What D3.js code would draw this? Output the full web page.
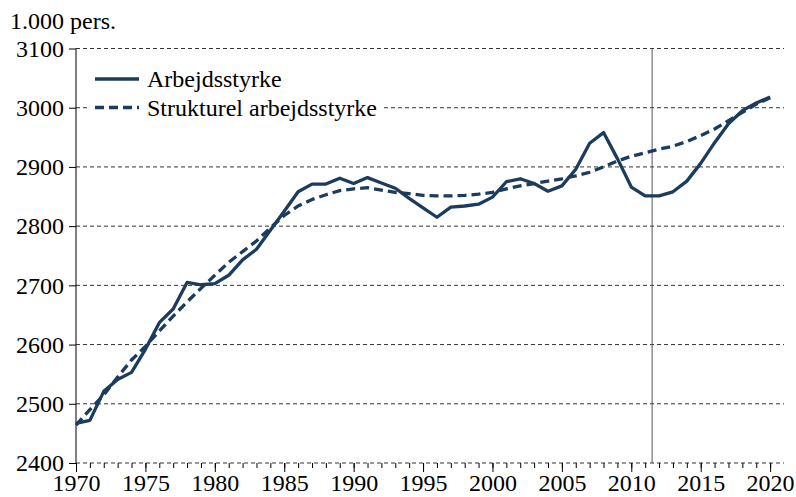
<!DOCTYPE html>
<html>
    <head>
        <script src="https://d3js.org/d3.v7.min.js"></script>
        <style>
            body { margin: 0; background: #fff; }
            svg text { font-family: 'Liberation Serif', 'Times New Roman', Tinos, 'DejaVu Serif', serif !important; }
        </style>
    </head>
    <body>
        <script>
            // data
            const startYear = 1970
            const endYear = 2020
            const labourForce = [
                2467, 2472, 2521, 2541, 2553, 2592, 2637, 2660, 2705, 2701,
                2703, 2717, 2743, 2761, 2793, 2825, 2858, 2871, 2871, 2881,
                2872, 2882, 2873, 2864, 2847, 2831, 2815, 2832, 2834, 2837,
                2849, 2875, 2880, 2872, 2859, 2868, 2896, 2940, 2958, 2914,
                2866, 2851, 2851, 2858, 2876, 2906, 2941, 2973, 2995, 3008,
                3018
            ]
            const structural = [
                2464, 2490, 2515, 2545, 2574, 2597, 2623, 2648, 2672, 2695,
                2717, 2739, 2757, 2775, 2797, 2818, 2834, 2845, 2853, 2860,
                2863, 2865, 2861, 2857, 2855, 2852, 2851, 2851, 2852, 2854,
                2857, 2863, 2868, 2872, 2876, 2880, 2885, 2891, 2900, 2910,
                2918, 2924, 2930, 2935, 2943, 2953, 2964, 2978, 2992, 3006,
                3017
            ]
            const yTicks = [2400, 2500, 2600, 2700, 2800, 2900, 3000, 3100]
            const xLabels = [1970, 1975, 1980, 1985, 1990, 1995, 2000, 2005, 2010, 2015, 2020]
            const splitYear = 2011.5
            const seriesNames = ['Arbejdsstyrke', 'Strukturel arbejdsstyrke']
            const unitLabel = '1.000 pers.'

            const years = d3.range(startYear, endYear + 1)
            const lineColor = '#1b3c5d'

            const svg = d3.select('body').append('svg')
            svg.attr('width', 796)
            svg.attr('height', 497)

            const xScale = d3.scaleLinear().domain([1970, 2021]).range([76, 784])
            const yScale = d3.scaleLinear().domain([2400, 3100]).range([463, 48.5])

            // gridlines
            svg.append('g')
                .selectAll('line')
                .data(yTicks).enter()
                .append('line')
                    .attr('x1', xScale(1970)).attr('x2', xScale(2021))
                    .attr('y1', d => yScale(d)).attr('y2', d => yScale(d))
                    .attr('stroke', '#333')
                    .attr('stroke-width', 1)
                    .attr('stroke-dasharray', '4,3')

            // x axis: minor yearly ticks and labelled five-year ticks
            const xMinor = d3.axisBottom(xScale)
                .tickValues(years).tickSize(5).tickFormat('')
            const xMajor = d3.axisBottom(xScale)
                .tickValues(xLabels).tickSize(9).tickPadding(2)
                .tickFormat(d3.format('d'))

            svg.append('g')
                .attr('transform', `translate(0, ${yScale(2400)})`)
                .call(xMinor)
                .call(g => g.select('.domain').remove())
            svg.append('g')
                .attr('transform', `translate(0, ${yScale(2400)})`)
                .call(xMajor)
                .call(g => g.select('.domain').remove())
                .call(g => g.selectAll('text')
                    .attr('font-size', 24)
                    .attr('fill', '#000'))

            // y axis
            const yAxis = d3.axisLeft(yScale)
                .tickValues(yTicks).tickSize(7).tickPadding(5)
                .tickFormat(d3.format('d'))
            svg.append('g')
                .attr('transform', `translate(${xScale(1970)}, 0)`)
                .call(yAxis)
                .call(g => g.select('.domain').remove())
                .call(g => g.selectAll('text')
                    .attr('font-size', 24)
                    .attr('fill', '#000'))
            svg.append('line')
                .attr('x1', xScale(1970)).attr('x2', xScale(1970))
                .attr('y1', yScale(3100)).attr('y2', yScale(2400))
                .attr('stroke', '#000')
                .attr('stroke-width', 1)

            svg.append('text')
                .attr('x', 10).attr('y', 29)
                .attr('font-size', 24)
                .text(unitLabel)

            // vertical marker
            svg.append('line')
                .attr('x1', xScale(splitYear)).attr('x2', xScale(splitYear))
                .attr('y1', yScale(3100)).attr('y2', yScale(2400))
                .attr('stroke', '#555')
                .attr('stroke-width', 1)

            // series
            const line = d3.line()
                .x((d, i) => xScale(years[i]))
                .y(d => yScale(d))

            svg.append('path')
                .datum(structural)
                .attr('d', line)
                .attr('fill', 'none')
                .attr('stroke', lineColor)
                .attr('stroke-width', 3.3)
                .attr('stroke-dasharray', '9,5')

            svg.append('path')
                .datum(labourForce)
                .attr('d', line)
                .attr('fill', 'none')
                .attr('stroke', lineColor)
                .attr('stroke-width', 3.3)
                .attr('stroke-linejoin', 'round')

            // legend
            const legend = svg.append('g')
            legend.append('rect')
                .attr('x', 88).attr('y', 62)
                .attr('width', 296).attr('height', 58)
                .attr('fill', '#fff')

            const legendItems = legend.selectAll('.item')
                .data(seriesNames).enter()
                .append('g')
                    .attr('class', 'item')
                    .attr('transform', (d, i) => `translate(95, ${79 + i * 28.5})`)

            legendItems.append('line')
                .attr('x1', 0).attr('x2', 44)
                .attr('y1', 0).attr('y2', 0)
                .attr('stroke', lineColor)
                .attr('stroke-width', 3.3)
                .attr('stroke-dasharray', (d, i) => i === 1 ? '9,5' : null)

            legendItems.append('text')
                .attr('x', 52).attr('y', 8)
                .attr('font-size', 24)
                .text(d => d)
        </script>
    </body>
</html>
